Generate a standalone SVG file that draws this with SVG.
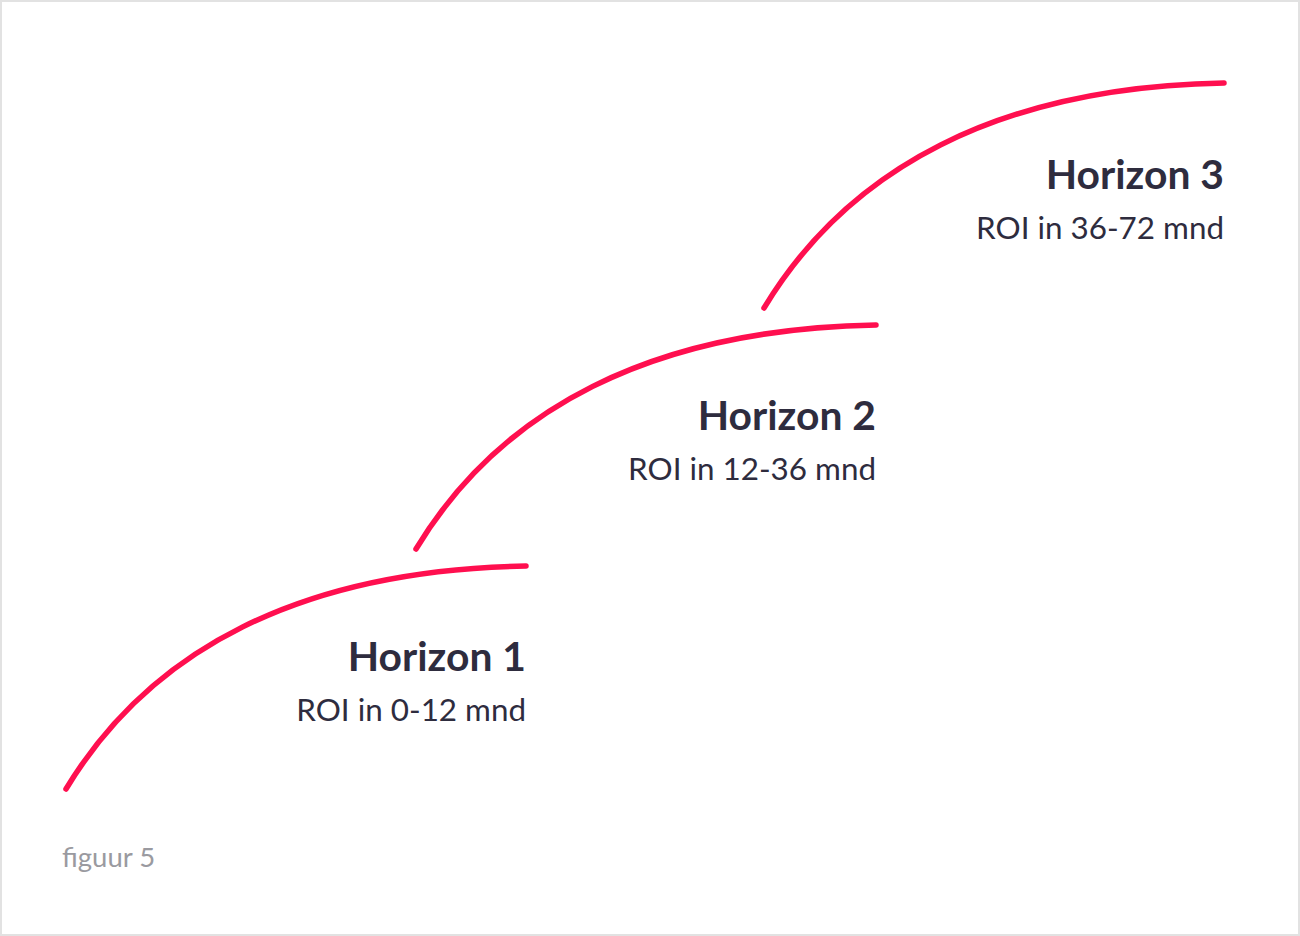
<svg xmlns="http://www.w3.org/2000/svg" width="1300" height="936" viewBox="0 0 1300 936">
<style>
.arc{fill:none;stroke:#ff0f4f;stroke-width:5.5;stroke-linecap:round}
.t{font-family:Lato,"Liberation Sans",sans-serif;font-weight:700;font-size:40.8px;fill:#2e2c3e;text-anchor:end}
.s{font-family:Lato,"Liberation Sans",sans-serif;font-size:31.4px;fill:#2e2c3e;text-anchor:end}
.f{font-family:Lato,"Liberation Sans",sans-serif;font-size:27.5px;fill:#9a9aa0}
</style>
<rect x="1" y="1" width="1298" height="934" fill="#fff" stroke="#e2e2e2" stroke-width="2"/>
<g id="connectors">
<path class="arc" d="M66,789 C150,650 300,570 526,566"/>
<path class="arc" d="M416,549 C500,410 650,329 876,325"/>
<path class="arc" d="M764,308 C848,169 998,87 1224,83"/>
</g>
<g id="h1"><text class="t" x="526" y="671">Horizon 1</text><text class="s" x="526" y="721">ROI in 0-12 mnd</text></g>
<g id="h2"><text class="t" x="876" y="430">Horizon 2</text><text class="s" x="876" y="480">ROI in 12-36 mnd</text></g>
<g id="h3"><text class="t" x="1224" y="189">Horizon 3</text><text class="s" x="1224" y="239">ROI in 36-72 mnd</text></g>
<text class="f" x="62" y="867">figuur 5</text>
</svg>
